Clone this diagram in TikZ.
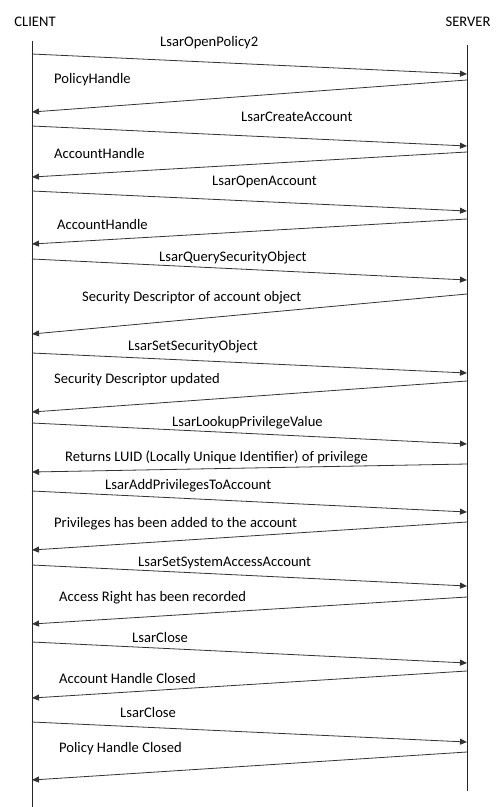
\documentclass[tikz,border=0pt]{standalone}
\usepackage{fontspec}
\setmainfont{Carlito}
\usetikzlibrary{arrows.meta}

\begin{document}
\begin{tikzpicture}[x=1pt,y=-1pt,
  every node/.style={font=\fontsize{14.6}{17}\selectfont,inner sep=0pt},
  life/.style={line width=0.8pt,black!85},
  msg/.style={line width=0.8pt,black!80,-{Triangle[length=7pt,width=6pt]}},
  lbl/.style={anchor=west}]
\useasboundingbox (0,0) rectangle (498,807);
% lifelines
\node (client) at (35,22) {CLIENT};
\node (server) at (468,22) {SERVER};
\coordinate (ctop) at (32,41); \coordinate (cbot) at (32,807);
\coordinate (stop) at (467,45); \coordinate (sbot) at (467,791);
\draw[life] (ctop)--(cbot); \draw[life] (stop)--(sbot);
% requests, client -> server
\foreach \n/\ya/\yb/\lx/\ly/\t in {
  1/54/74/160/43/LsarOpenPolicy2,
  2/126/146/241/117/LsarCreateAccount,
  3/191/211/212/182/LsarOpenAccount,
  4/259/280/159/258/LsarQuerySecurityObject,
  5/353/373/128/347/LsarSetSecurityObject,
  6/423/444/172/423/LsarLookupPrivilegeValue,
  7/491/512/105/486/LsarAddPrivilegesToAccount,
  8/565/586/138/563/LsarSetSystemAccessAccount,
  9/642/663/132/637/LsarClose,
  10/722/742/120/712/LsarClose}{
  \coordinate (qa\n) at (32,\ya); \coordinate (qb\n) at (467,\yb);
  \draw[msg] (qa\n)--(qb\n);
  \node[lbl] (ql\n) at (\lx,\ly) {\t};
}
% responses, server -> client
\foreach \n/\ya/\yb/\lx/\ly/\t in {
  1/80/112/54/80/PolicyHandle,
  2/152/177/54/153/AccountHandle,
  3/219/244/57/224/AccountHandle,
  4/294/334/82/298/Security Descriptor of account object,
  5/381/412/54/380/Security Descriptor updated,
  6/464/472/65/457/Returns LUID (Locally Unique Identifier) of privilege,
  7/522/550/54/524/Privileges has been added to the account,
  8/597/624/59/598/Access Right has been recorded,
  9/671/698/59/678/Account Handle Closed,
  10/752/780/59/749/Policy Handle Closed}{
  \coordinate (ra\n) at (467,\ya); \coordinate (rb\n) at (32,\yb);
  \draw[msg] (ra\n)--(rb\n);
  \node[lbl] (rl\n) at (\lx,\ly) {\t};
}
\end{tikzpicture}
\end{document}
